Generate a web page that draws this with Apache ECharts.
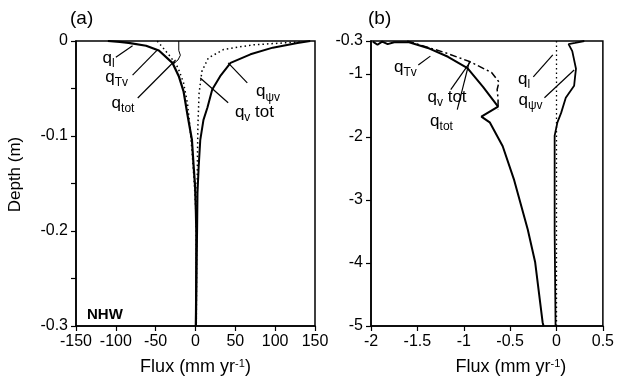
<!DOCTYPE html>
<html>
<head>
<meta charset="utf-8">
<script src="https://cdn.jsdelivr.net/npm/echarts@6/dist/echarts.min.js"></script>
<style>
  html, body { margin: 0; padding: 0; background: #fff; }
  #main { width: 617px; height: 381px; }
</style>
</head>
<body>
<div id="main"></div>
<script>
// ---- data: [flux (mm/yr), depth (m)] ----
// panel (a), NHW
const aQl = [[-110, 0], [-95, -0.001], [-84, -0.002], [-62, -0.005], [-46, -0.010], [-29, -0.023],
  [-21, -0.037], [-15, -0.053], [-10, -0.078], [-4.5, -0.104], [-2.5, -0.13], [-0.5, -0.153],
  [0.5, -0.18], [1, -0.2], [1, -0.25], [0.5, -0.3]];
const aQTv = [[-48, 0], [-40, -0.008], [-31, -0.017], [-22, -0.028], [-15, -0.044], [-10, -0.066],
  [-7, -0.09], [-4, -0.12], [-1.5, -0.15], [0.5, -0.18], [1, -0.22], [1, -0.3]];
const aQtot = [[-21, 0], [-21, -0.01], [-19, -0.015], [-22, -0.02], [-28, -0.024]];
const aQpsiv = [[144, 0], [128, -0.002], [97, -0.007], [69, -0.014], [44, -0.023], [31, -0.037],
  [21, -0.051], [15, -0.07], [10, -0.083], [6, -0.104], [4, -0.132], [2.5, -0.16], [2, -0.2],
  [1, -0.25], [0.5, -0.3]];
const aQvtot = [[131, -0.001], [72, -0.004], [35, -0.009], [16, -0.018], [8, -0.032], [4.5, -0.055],
  [3, -0.09], [2.5, -0.12], [2, -0.16], [1.5, -0.2], [1, -0.3]];

// panel (b)
const bQtot = [[-1.98, -0.49], [-1.93, -0.54], [-1.88, -0.49], [-1.82, -0.53], [-1.75, -0.5],
  [-1.59, -0.5], [-1.37, -0.6], [-1.17, -0.73], [-0.96, -0.91], [-0.79, -1.21], [-0.63, -1.52],
  [-0.81, -1.68], [-0.72, -1.77], [-0.58, -2.15], [-0.46, -2.67], [-0.31, -3.47], [-0.23, -3.99],
  [-0.15, -4.94], [-0.14, -5]];
const bQvtot = [[-1.61, -0.48], [-1.19, -0.67], [-0.93, -0.81], [-0.70, -0.98], [-0.62, -1.13],
  [-0.64, -1.25], [-0.63, -1.4], [-0.63, -1.57]];
const bQl = [[0, -0.48], [0, -1], [0, -2], [0, -3], [0, -4], [0, -5]];
const bQpsiv = [[0.3, -0.48], [0.2, -0.51], [0.13, -0.53], [0.17, -0.64], [0.21, -0.92], [0.2, -1.05],
  [0.19, -1.19], [0.10, -1.38], [0.05, -1.62], [0.01, -1.77], [-0.02, -1.98], [-0.02, -2.5],
  [-0.02, -3.5], [-0.01, -5]];

// ---- axes ----
const aFluxRange = [-150, 150], aFluxStep = 50;
const aDepthRange = [-0.3, 0], aDepthStep = 0.05;
const aDepthLabels = ['0', '-0.1', '-0.2', '-0.3'];
const bFluxRange = [-2, 0.5], bFluxStep = 0.5;
const bDepthRange = [-5, -0.48], bDepthStep = 1;
const bTopLabel = '-0.3';

// ---- curve labels: [panel, text, label at, pointer from, pointer to] (data coords) ----
const notes = [
  [0, '{q|q}{s|l}', [-109, -0.020], [-100, -0.017], [-79, -0.005]],
  [0, '{q|q}{s|Tv}', [-99, -0.040], [-79, -0.036], [-47.5, -0.009]],
  [0, '{q|q}{s|tot}', [-91, -0.067], [-72.5, -0.060], [-25, -0.020]],
  [0, '{q|q}{s|ψv}', [91, -0.055], [65, -0.044], [41, -0.023]],
  [0, '{q|q}{s|v}{q| tot}', [74, -0.077], [41, -0.065], [6, -0.039]],
  [1, '{q|q}{s|Tv}', [-1.63, -0.92], [-1.49, -0.86], [-1.36, -0.72]],
  [1, '{q|q}{s|v}{q| tot}', [-1.18, -1.40], [-1.14, -1.25], [-0.93, -0.81]],
  [1, '{q|q}{s|tot}', [-1.24, -1.77], [-1.07, -1.57], [-0.94, -0.81]],
  [1, '{q|q}{s|l}', [-0.35, -1.11], [-0.25, -1.05], [-0.04, -0.70]],
  [1, '{q|q}{s|ψv}', [-0.28, -1.44], [-0.13, -1.38], [0.19, -0.94]]
];

const FONT = 'Liberation Sans, Arial, Helvetica, sans-serif';
const chart = echarts.init(document.getElementById('main'));

function xAx(idx, range, step) {
  return {
    gridIndex: idx, type: 'value', min: range[0], max: range[1], interval: step,
    name: 'Flux (mm yr{sup|-1})', nameLocation: 'middle', nameGap: 32,
    nameTextStyle: {
      color: '#000', fontFamily: FONT, fontSize: 18,
      padding: idx === 1 ? [0, 0, 0, 48] : 0,
      rich: { sup: { fontSize: 11, verticalAlign: 'top', color: '#000', fontFamily: FONT } }
    },
    axisLine: { onZero: false, lineStyle: { color: '#000', width: 1.5 } },
    axisTick: { inside: false, length: 5, lineStyle: { color: '#000', width: 1.2 } },
    axisLabel: { color: '#000', fontFamily: FONT, fontSize: 16, margin: 8 },
    splitLine: { show: false }
  };
}

function yAx(idx, range, step, fmt) {
  return {
    gridIndex: idx, type: 'value', min: range[0], max: range[1], interval: step,
    name: idx === 0 ? 'Depth (m)' : '', nameLocation: 'middle', nameGap: 52,
    nameTextStyle: { color: '#000', fontFamily: FONT, fontSize: 17, padding: [0, 0, 0, 18] },
    axisLine: { onZero: false, lineStyle: { color: '#000', width: 1.5 } },
    axisTick: { inside: false, length: 5, lineStyle: { color: '#000', width: 1.2 } },
    axisLabel: { color: '#000', fontFamily: FONT, fontSize: 16, margin: 8, formatter: fmt },
    splitLine: { show: false }
  };
}

function line(data, idx, width, type) {
  return {
    type: 'line', data: data, xAxisIndex: idx, yAxisIndex: idx,
    showSymbol: false, symbol: 'none', silent: true,
    lineStyle: { color: '#000', width: width, type: type }
  };
}

chart.setOption({
  animation: false,
  backgroundColor: '#fff',
  grid: [
    { left: 76, top: 41, width: 239, height: 286, show: true, borderColor: '#000', borderWidth: 1.5 },
    { left: 371, top: 41, width: 239, height: 286, show: true, borderColor: '#000', borderWidth: 1.5 }
  ],
  xAxis: [xAx(0, aFluxRange, aFluxStep), xAx(1, bFluxRange, bFluxStep)],
  yAxis: [
    yAx(0, aDepthRange, aDepthStep, function (v) {
      const k = Math.round(-v * 100);
      return k % 10 === 0 ? aDepthLabels[k / 10] : '';
    }),
    yAx(1, bDepthRange, bDepthStep, function (v) {
      return Math.abs(v - bDepthRange[1]) < 1e-9 ? bTopLabel : String(v);
    })
  ],
  series: [
    line(aQTv, 0, 1.5, [1.5, 3]),
    line(aQvtot, 0, 1.5, [1.5, 3]),
    line(aQtot, 0, 1, 'solid'),
    line(aQl, 0, 2.2, 'solid'),
    line(aQpsiv, 0, 2, 'solid'),
    line(bQl, 1, 1.3, [1.5, 3]),
    line(bQvtot, 1, 1.5, [7, 3, 2, 3]),
    line(bQtot, 1, 2, 'solid'),
    line(bQpsiv, 1, 1.8, 'solid')
  ]
});

// labels and pointer lines placed through the axes' own scales
const graphics = [
  { type: 'text', left: 70, top: 9, style: { text: '(a)', font: '19px ' + FONT, fill: '#000' } },
  { type: 'text', left: 368, top: 9, style: { text: '(b)', font: '19px ' + FONT, fill: '#000' } },
  { type: 'text', left: 87, top: 307, style: { text: 'NHW', font: 'bold 15px ' + FONT, fill: '#000' } }
];
notes.forEach(function (n) {
  const g = { gridIndex: n[0] };
  const p = chart.convertToPixel(g, n[2]);
  const a = chart.convertToPixel(g, n[3]);
  const b = chart.convertToPixel(g, n[4]);
  graphics.push({
    type: 'line', silent: true,
    shape: { x1: a[0], y1: a[1], x2: b[0], y2: b[1] },
    style: { stroke: '#000', lineWidth: 1.2 }
  });
  graphics.push({
    type: 'text', silent: true, x: p[0], y: p[1],
    style: {
      text: n[1], align: 'center', verticalAlign: 'middle', fill: '#000',
      rich: {
        q: { fontSize: 17, fontFamily: FONT, padding: [0, 0, 3, 0], verticalAlign: 'bottom', fill: '#000' },
        s: { fontSize: 12, fontFamily: FONT, verticalAlign: 'bottom', fill: '#000' }
      }
    }
  });
});
chart.setOption({ graphic: graphics });
</script>
</body>
</html>
